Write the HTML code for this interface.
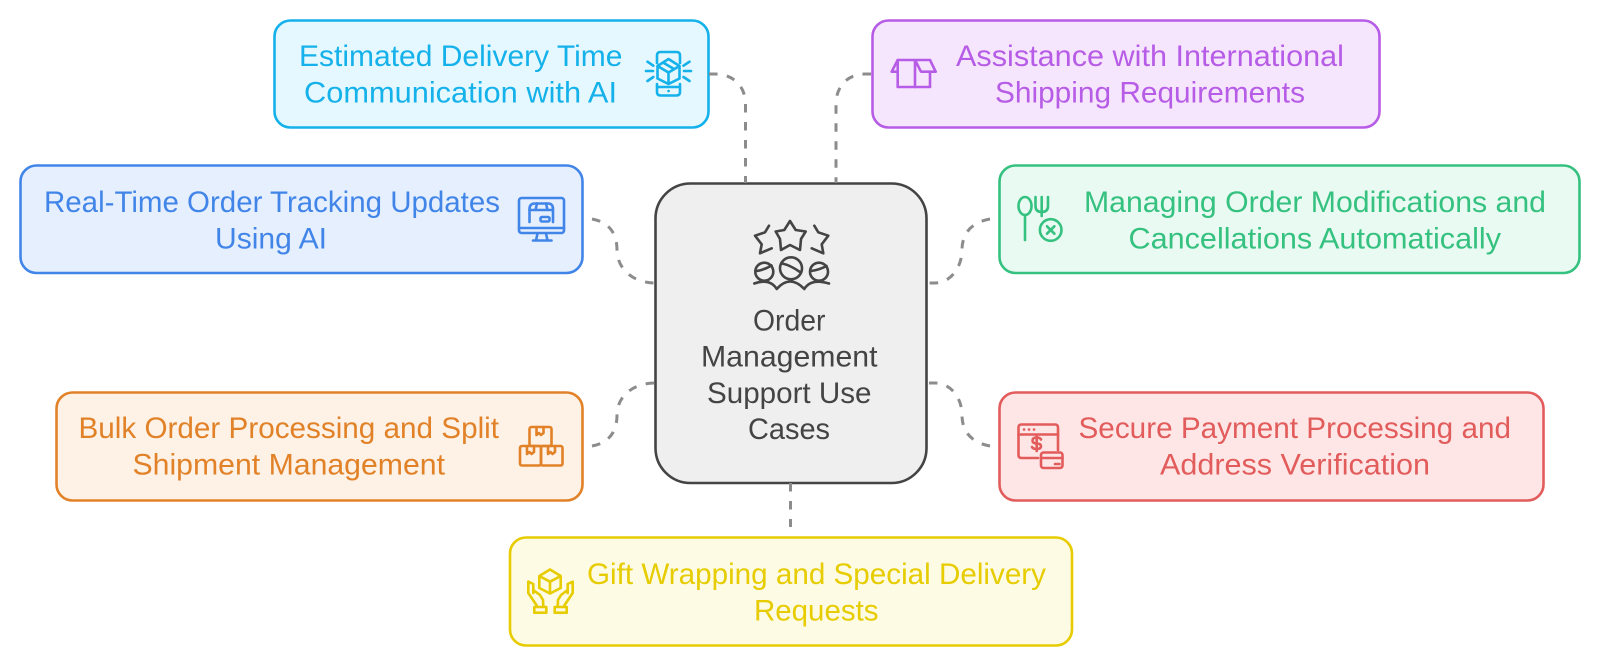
<!DOCTYPE html>
<html lang="en">
<head>
<meta charset="utf-8">
<title>Order Management Support Use Cases</title>
<style>
html,body{margin:0;padding:0;background:#fff;width:1600px;height:666px;overflow:hidden}
svg{display:block}
text{font-family:"Liberation Sans",sans-serif;font-size:29.500px}
.c{fill:none;stroke:#8c8c8c;stroke-width:3;stroke-dasharray:8.500 9.500}
.i{fill:none;stroke-width:2.600;stroke-linecap:round;stroke-linejoin:round}
</style>
</head>
<body>
<svg width="1600" height="666" viewBox="0 0 1600 666" xmlns="http://www.w3.org/2000/svg">
<!-- boxes -->
<rect x="274.500" y="20.500" width="434" height="107" rx="16" fill="#e5f8ff" stroke="#14b1ea" stroke-width="2.600"/>
<rect x="872.500" y="20.500" width="507" height="107" rx="16" fill="#f6e6fd" stroke="#b75ce6" stroke-width="2.600"/>
<rect x="20.500" y="165.500" width="562" height="107.500" rx="16" fill="#e5effe" stroke="#4285e8" stroke-width="2.600"/>
<rect x="999.500" y="165.500" width="580" height="107.500" rx="16" fill="#e9faf2" stroke="#35c17f" stroke-width="2.600"/>
<rect x="56.500" y="392.500" width="526" height="108" rx="16" fill="#fef1e6" stroke="#e28228" stroke-width="2.600"/>
<rect x="999.500" y="392.500" width="544" height="108" rx="16" fill="#ffe6e6" stroke="#e25c5c" stroke-width="2.600"/>
<rect x="510" y="537.500" width="562" height="108" rx="16" fill="#fefbe5" stroke="#e6cc00" stroke-width="2.600"/>
<rect x="655.500" y="183.500" width="271" height="299.500" rx="35" fill="#efefef" stroke="#444" stroke-width="2.600"/>

<!-- connectors -->
<path class="c" d="M709 74H715C733 74 745.500 86 745.500 104V183"/>
<path class="c" d="M871 74H865C848 74 836 86 836 104V183"/>
<path class="c" d="M592 219C608 222 617 232 617 250C617 268 632 283 655.500 283"/>
<path class="c" d="M990 219C973 222 962 232 962 250C962 268 950 283 935 283H926"/>
<path class="c" d="M592 446C608 443 617 433 617 415C617 397 632 383 655.500 383"/>
<path class="c" d="M990 446C973 443 962 433 962 415C962 397 950 383 935 383H926"/>
<path class="c" d="M790.500 483V527"/>

<!-- labels -->
<g fill="#14b1ea">
<text x="299" y="66" textLength="323.500" lengthAdjust="spacingAndGlyphs">Estimated Delivery Time</text>
<text x="304" y="102.500" textLength="313" lengthAdjust="spacingAndGlyphs">Communication with AI</text>
</g>
<g fill="#b75ce6">
<text x="956" y="66" textLength="388" lengthAdjust="spacingAndGlyphs">Assistance with International</text>
<text x="995" y="102.500" textLength="310" lengthAdjust="spacingAndGlyphs">Shipping Requirements</text>
</g>
<g fill="#4285e8">
<text x="44" y="212" textLength="456" lengthAdjust="spacingAndGlyphs">Real-Time Order Tracking Updates</text>
<text x="215" y="248.500" textLength="112" lengthAdjust="spacingAndGlyphs">Using AI</text>
</g>
<g fill="#35c17f">
<text x="1084" y="212" textLength="462" lengthAdjust="spacingAndGlyphs">Managing Order Modifications and</text>
<text x="1128.500" y="248.500" textLength="372.500" lengthAdjust="spacingAndGlyphs">Cancellations Automatically</text>
</g>
<g fill="#e28228">
<text x="78.500" y="438" textLength="420.500" lengthAdjust="spacingAndGlyphs">Bulk Order Processing and Split</text>
<text x="132.500" y="474.500" textLength="312.500" lengthAdjust="spacingAndGlyphs">Shipment Management</text>
</g>
<g fill="#e25c5c">
<text x="1078.500" y="438" textLength="432.500" lengthAdjust="spacingAndGlyphs">Secure Payment Processing and</text>
<text x="1160" y="474.500" textLength="270" lengthAdjust="spacingAndGlyphs">Address Verification</text>
</g>
<g fill="#e6cc00">
<text x="587" y="584" textLength="459" lengthAdjust="spacingAndGlyphs">Gift Wrapping and Special Delivery</text>
<text x="754" y="620.500" textLength="124.500" lengthAdjust="spacingAndGlyphs">Requests</text>
</g>
<g fill="#444">
<text x="753" y="330.500" textLength="72.500" lengthAdjust="spacingAndGlyphs">Order</text>
<text x="701" y="366.500" textLength="176.500" lengthAdjust="spacingAndGlyphs">Management</text>
<text x="707" y="403" textLength="164.500" lengthAdjust="spacingAndGlyphs">Support Use</text>
<text x="748" y="439" textLength="82" lengthAdjust="spacingAndGlyphs">Cases</text>
</g>

<!-- cyan icon: phone with parcel -->
<g class="i" stroke="#14b1ea">
<path d="M657 63V55.500Q657 52 660.500 52H676.500Q680 52 680 55.500V63"/>
<path d="M657 84V92Q657 95.500 660.500 95.500H676.500Q680 95.500 680 92V84M657 87H680"/>
<path d="M668.500 59L679.500 66V78.500L668.500 84L657.500 78.500V66ZM657.500 66L668.500 72.500L679.500 66M668.500 72.500V84M663 62.500L674 69"/>
<path d="M647.500 61.700L653.300 65.700M646 71H653M647.500 81L653.300 77M683.500 65.700L689.500 61.700M684 71H691M683.500 77L689.500 81"/>
<path d="M668.500 91H668.600"/>
</g>

<!-- purple icon: open box -->
<g class="i" stroke="#b75ce6">
<path d="M897.700 60V87H930V72"/>
<path d="M891.700 71.700L897.700 60H930L935.700 71.700H921L915 60V87M891.700 71.700H897.700"/>
</g>

<!-- blue icon: monitor with parcel -->
<g class="i" stroke="#4285e8">
<rect x="519" y="198" width="45" height="35" rx="2.500"/>
<path d="M519 228H564M537.500 233.500L536 240.500M546 233.500L547.500 240.500M533 240.500H551.500"/>
<path d="M529.500 222V209Q529.500 203.500 535 203.500H548Q553 203.500 553 209V222"/>
<path d="M529.500 210H553M537 203.500L535.500 210M546 203.500L547.500 210"/>
<rect x="540.500" y="217" width="9" height="4.500" rx="1.500"/>
</g>

<!-- green icon: spoon, fork, cancel -->
<g class="i" stroke="#35c17f">
<ellipse cx="1025" cy="206" rx="6.500" ry="9"/>
<path d="M1025 215V240"/>
<path d="M1035.500 197V206Q1035.500 212 1041.700 212Q1048 212 1048 206V197M1041.700 197V216"/>
<circle cx="1050.700" cy="230" r="10.800"/>
<path d="M1047 226.300L1054.400 233.700M1054.400 226.300L1047 233.700"/>
</g>

<!-- orange icon: stacked boxes -->
<g class="i" stroke="#e28228">
<rect x="529.500" y="427" width="22" height="19" rx="2"/>
<rect x="520" y="446" width="21" height="19.500" rx="2"/>
<rect x="541" y="446" width="21.500" height="19.500" rx="2"/>
<path d="M536.500 427V435L539 433L541 435L543.500 433V427"/>
<path d="M527 446V454L529.500 452L531.500 454L534 452V446"/>
<path d="M548 446V454L550.500 452L552.500 454L555 452V446"/>
</g>

<!-- red icon: payment window -->
<g class="i" stroke="#e25c5c">
<path d="M1038 458H1021.500Q1018.500 458 1018.500 455V427.500Q1018.500 424.500 1021.500 424.500H1055Q1058 424.500 1058 427.500V450"/>
<path d="M1018.500 434.500H1058"/>
<path d="M1024 429.500H1024.100M1029 429.500H1029.100M1034 429.500H1034.100"/>
<path d="M1041 439.500Q1040 437.500 1036.700 437.500Q1032.500 437.500 1032.500 440.500Q1032.500 443.500 1036.700 443.500Q1041 443.500 1041 446.300Q1041 449 1036.700 449Q1033 449 1032 447M1036.700 435.500V451"/>
<rect x="1041" y="452.500" width="21.500" height="15.500" rx="2.500"/>
<path d="M1041 458H1062.500M1055 464H1059.500"/>
</g>

<!-- yellow icon: hands holding box -->
<g class="i" stroke="#e6cc00">
<path d="M550 569.500L560.700 576V588L550 593.500L539.300 588V576ZM539.300 576L550 581.700L560.700 576M550 581.700V593.500"/>
<path d="M528.300 581.700V593L536.700 605.500M528.300 581.700L533.300 584V593M533.300 590L540 595L543 600L543.300 606.500"/>
<path d="M572.700 581.700V593L564.300 605.500M572.700 581.700L567.700 584V593M567.700 590L561 595L558 600L557.700 606.500"/>
<rect x="534.300" y="607" width="12" height="5.700"/>
<rect x="554.700" y="607" width="12" height="5.700"/>
</g>

<!-- centre icon: stars and people -->
<g class="i" stroke="#444">
<path d="M790 221L795.700 230L805.700 231.500L801 239L800 250L790 245L781 250L780 239L775.700 231.500L784.300 230Z"/>
<path d="M769 225.700L765 232.300L755 235.700L761.700 244.300L760 253.300L771.700 248.300"/>
<path d="M814.300 225.700L818.300 232.300L828.300 235.700L821.700 244.300L823.300 253.300L811.700 248.300"/>
<circle cx="764.300" cy="271.700" r="9"/>
<circle cx="791" cy="268.300" r="11"/>
<circle cx="819" cy="271.700" r="9"/>
<path d="M756.500 271Q764 270 771.500 265.500M782 263.500Q790 265 800 272M811 271Q819 270 826.500 266"/>
<path d="M754.300 283.500Q770 278 776.700 289Q790 274 804.300 289Q811 278 829 283.500"/>
</g>
</svg>
</body>
</html>
